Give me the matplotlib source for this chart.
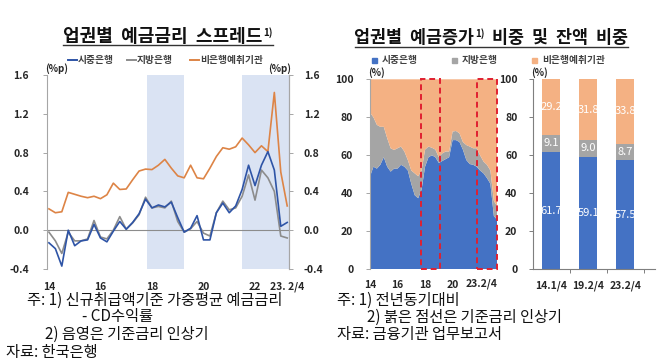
import matplotlib
matplotlib.use("Agg")
import matplotlib.pyplot as plt
from matplotlib.lines import Line2D
from matplotlib.patches import Rectangle
import numpy as np

plt.rcParams['font.family'] = ['Noto Sans CJK KR', 'DejaVu Sans']

# ---------------- data ----------------
# Left: deposit rate spreads (%p), quarterly 2014Q1 - 2023Q2
spread_commercial = [-0.13, -0.19, -0.37, 0.00, -0.16, -0.11, -0.10, 0.06, -0.08, -0.12,
                     -0.01, 0.09, 0.01, 0.08, 0.17, 0.32, 0.23, 0.26, 0.24, 0.29,
                     0.13, -0.02, 0.02, 0.15, -0.10, -0.10, 0.18, 0.28, 0.18, 0.25,
                     0.42, 0.67, 0.46, 0.67, 0.81, 0.62, 0.04, 0.08]
spread_regional = [-0.02, -0.11, -0.24, -0.02, -0.11, -0.11, -0.09, 0.10, -0.07, -0.09,
                   0.00, 0.14, 0.01, 0.075, 0.16, 0.34, 0.23, 0.245, 0.23, 0.30,
                   0.09, -0.02, 0.015, 0.09, -0.03, -0.06, 0.18, 0.30, 0.21, 0.23,
                   0.35, 0.57, 0.31, 0.62, 0.54, 0.40, -0.06, -0.08]
spread_nonbank = [0.22, 0.18, 0.19, 0.39, 0.37, 0.35, 0.335, 0.35, 0.325, 0.365,
                  0.485, 0.42, 0.425, 0.52, 0.61, 0.63, 0.625, 0.67, 0.73, 0.64,
                  0.56, 0.54, 0.67, 0.54, 0.53, 0.64, 0.76, 0.85, 0.835, 0.86,
                  0.95, 0.88, 0.80, 0.87, 0.81, 1.42, 0.60, 0.25]
left_tick_pos = [0, 8, 16, 24, 32, 37]
left_tick_labels = ['14', '16', '18', '20', '22', '23. 2/4']
left_shade = [(15.2, 21.0), (30.0, 37.2)]

# Middle: share of deposit increase (%), quarterly 2014Q1 - 2023Q2
share_commercial = [48.8, 54, 53, 55, 59, 54, 51.4, 53, 53, 55, 54, 52, 45, 39, 37.4, 42,
                    54, 59, 60, 59, 56, 57, 58, 59, 68, 68, 67, 63, 57.5, 55.4, 55, 54,
                    52, 50.5, 48, 45, 28, 26]
share_regional = [33.7, 26, 23, 20, 16, 15, 12.3, 9.8, 10.7, 9.6, 8, 5.5, 7, 11.5, 11.6, 10,
                  9, 5.6, 4, 4, 3, 4, 4, 3, 4.5, 4.8, 4.6, 4, 7.9, 9.2, 8.7, 9.7,
                  8, 6.2, 7, 7, 8, 7]
share_nonbank = [17.5, 20, 24, 25, 25, 31, 36.3, 37.2, 36.3, 35.4, 38, 42.5, 48, 49.5, 51, 48,
                 37, 35.4, 36, 37, 41, 39, 38, 38, 27.5, 27.2, 28.4, 33, 34.6, 35.4, 36.3, 36.3,
                 40, 43.3, 45, 48, 64, 67]
mid_tick_pos = [0, 8, 16, 24]
mid_tick_labels = ['14', '16', '18', '20']
mid_last_label = '23.2/4'
mid_boxes = [(14.8, 20.4), (31.0, 37.0)]

# Right: balance share (%)
bal_periods = ['14.1/4', '19.2/4', '23.2/4']
bal_commercial = [61.7, 59.1, 57.5]
bal_regional = [9.1, 9.0, 8.7]
bal_nonbank = [29.2, 31.8, 33.8]

# ---------------- style ----------------
C_BLUE_LINE = '#2e54a6'
C_GRAY_LINE = '#8c8c8c'
C_ORANGE_LINE = '#dd8446'
C_SHADE = '#dae3f3'
C_BLUE = '#4472c4'
C_GRAY = '#a5a5a5'
C_ORANGE = '#f4b183'
C_RED = '#e02030'
C_TXT = '#262626'
C_AX = '#a6a6a6'

W, H = 658, 361
fig = plt.figure(figsize=(W / 100, H / 100), dpi=100)


def fx(x):
    return x / W


def fy(y):
    return 1 - y / H


def axpos(l, t, r, b):
    return [fx(l), fy(b), (r - l) / W, (b - t) / H]


# ---------------- left chart ----------------
ax1 = fig.add_axes(axpos(47, 75, 288.5, 269))
x1 = np.arange(len(spread_commercial))
for a, b in left_shade:
    ax1.axvspan(a, b, color=C_SHADE, lw=0, zorder=0)
ax1.axhline(0, color='#8c8c8c', lw=0.8, zorder=1)
ax1.plot(x1, spread_nonbank, color=C_ORANGE_LINE, lw=1.2, zorder=3)
ax1.plot(x1, spread_regional, color=C_GRAY_LINE, lw=1.2, zorder=3)
ax1.plot(x1, spread_commercial, color=C_BLUE_LINE, lw=1.2, zorder=4)
ax1.set_xlim(-0.3, 37.2)
ax1.set_ylim(-0.4, 1.6)
yt = [-0.4, 0.0, 0.4, 0.8, 1.2, 1.6]
ax1.set_yticks(yt)
ax1.set_yticklabels([f'{v:.1f}' for v in yt])
ax1.set_xticks(left_tick_pos)
ax1.set_xticklabels(left_tick_labels)
ax1.tick_params(axis='x', length=0, pad=9, labelsize=7.5, colors=C_TXT)
ax1.tick_params(axis='y', length=3, width=0.7, color=C_AX, pad=10, labelsize=7.5, labelcolor=C_TXT)
for lab in ax1.get_xticklabels() + ax1.get_yticklabels():
    lab.set_fontweight('bold')
for s in ['top', 'bottom']:
    ax1.spines[s].set_visible(False)
for s in ['left', 'right']:
    ax1.spines[s].set_color(C_AX)
    ax1.spines[s].set_linewidth(0.8)
ax1r = ax1.twinx()
ax1r.set_ylim(-0.4, 1.6)
ax1r.set_yticks(yt)
ax1r.set_yticklabels([f'{v:.1f}' for v in yt])
ax1r.tick_params(axis='y', length=3, width=0.7, color=C_AX, pad=8, labelsize=7.5, labelcolor=C_TXT)
for lab in ax1r.get_yticklabels():
    lab.set_fontweight('bold')
for s in ['top', 'bottom', 'left']:
    ax1r.spines[s].set_visible(False)
ax1r.spines['right'].set_color(C_AX)
ax1r.spines['right'].set_linewidth(0.8)

fig.text(fx(45), fy(69), '(%p)', fontsize=7, fontweight='bold', color=C_TXT, ha='left', va='center')
fig.text(fx(291), fy(69), '(%p)', fontsize=7, fontweight='bold', color=C_TXT, ha='right', va='center')

# left title
fig.text(fx(262), fy(37), '업권별  예금금리  스프레드', fontsize=13, fontweight='bold',
         color='#111111', ha='right', va='center')
fig.text(fx(263), fy(32.5), '1)', fontsize=7, fontweight='bold', color='#111111', ha='left', va='center')
fig.add_artist(Line2D([fx(63), fx(273)], [fy(44.5), fy(44.5)], color='#333333', lw=1.0))

# left legend
leg_items = [(68, '시중은행', C_BLUE_LINE), (127, '지방은행', C_GRAY_LINE), (190, '비은행예취기관', C_ORANGE_LINE)]
for x0, txt, c in leg_items:
    fig.add_artist(Line2D([fx(x0), fx(x0 + 9)], [fy(60), fy(60)], color=c, lw=1.4))
    fig.text(fx(x0 + 10), fy(60), txt, fontsize=7, fontweight='bold', color='#404040',
             ha='left', va='center')

# ---------------- middle chart ----------------
ax2 = fig.add_axes(axpos(370, 79.3, 497.3, 269.3))
x2 = np.arange(len(share_commercial))
ax2.stackplot(x2, share_commercial, share_regional, share_nonbank,
              colors=[C_BLUE, C_GRAY, C_ORANGE], lw=0)
ax2.set_xlim(0, 37)
ax2.set_ylim(0, 100)
for a, b in mid_boxes:
    ax2.add_patch(Rectangle((a, 0), b - a, 100, fill=False, ls=(0, (3, 2)), ec=C_RED, lw=1.4,
                            clip_on=False, zorder=5))
ax2.set_yticks(range(0, 101, 20))
ax2.set_xticks(mid_tick_pos)
ax2.set_xticklabels(mid_tick_labels)
ax2.tick_params(axis='x', length=0, pad=8, labelsize=7.5, colors=C_TXT)
ax2.tick_params(axis='y', length=3, width=0.7, color=C_AX, pad=9, labelsize=7.5, labelcolor=C_TXT)
ax2.text(37, -0.075, mid_last_label, transform=ax2.get_xaxis_transform(), ha='right', va='center',
         fontsize=7.5, fontweight='bold', color=C_TXT)
for lab in ax2.get_xticklabels() + ax2.get_yticklabels():
    lab.set_fontweight('bold')
for s in ['top', 'bottom', 'right']:
    ax2.spines[s].set_visible(False)
ax2.spines['left'].set_color(C_AX)
ax2.spines['left'].set_linewidth(0.8)
fig.text(fx(368), fy(73), '(%)', fontsize=7, fontweight='bold', color=C_TXT, ha='left', va='center')

# ---------------- right bar chart ----------------
ax3 = fig.add_axes(axpos(532.7, 79.3, 655, 269.3))
xb = np.arange(len(bal_periods))
bw = 0.5
ax3.bar(xb, bal_commercial, bw, color=C_BLUE)
ax3.bar(xb, bal_regional, bw, bottom=bal_commercial, color=C_GRAY)
bot2 = [a + b for a, b in zip(bal_commercial, bal_regional)]
ax3.bar(xb, bal_nonbank, bw, bottom=bot2, color=C_ORANGE)
for i in range(len(bal_periods)):
    ax3.text(xb[i], bal_commercial[i] / 2, f'{bal_commercial[i]:.1f}', ha='center', va='center',
             color='white', fontsize=8)
    ax3.text(xb[i], bal_commercial[i] + bal_regional[i] / 2, f'{bal_regional[i]:.1f}', ha='center',
             va='center', color='white', fontsize=8)
    ax3.text(xb[i], bot2[i] + bal_nonbank[i] / 2, f'{bal_nonbank[i]:.1f}', ha='center', va='center',
             color='white', fontsize=8)
ax3.set_xlim(-0.5, 2.81)
ax3.set_ylim(0, 100)
ax3.set_yticks(range(0, 101, 20))
ax3.set_xticks(xb)
ax3.set_xticklabels(bal_periods)
ax3.set_xticks([0.5, 1.5, 2.5], minor=True)
ax3.tick_params(axis='x', which='major', length=0, pad=8, labelsize=7.5, colors=C_TXT)
ax3.tick_params(axis='x', which='minor', length=3, width=0.7, color='#7f7f7f')
ax3.tick_params(axis='y', length=3, width=0.7, color='#7f7f7f', pad=8, labelsize=7.5, labelcolor=C_TXT)
for lab in ax3.get_xticklabels() + ax3.get_yticklabels():
    lab.set_fontweight('bold')
for s in ['top', 'right']:
    ax3.spines[s].set_visible(False)
for s in ['left', 'bottom']:
    ax3.spines[s].set_color('#7f7f7f')
    ax3.spines[s].set_linewidth(0.8)
fig.text(fx(531), fy(73), '(%)', fontsize=7, fontweight='bold', color=C_TXT, ha='left', va='center')

# right title
fig.text(fx(474), fy(38), '업권별  예금증가', fontsize=12.5, fontweight='bold', color='#111111',
         ha='right', va='center')
fig.text(fx(475), fy(33.5), '1)', fontsize=7, fontweight='bold', color='#111111', ha='left', va='center')
fig.text(fx(492), fy(38), '비중  및  잔액  비중', fontsize=12.5, fontweight='bold', color='#111111',
         ha='left', va='center')
fig.add_artist(Line2D([fx(355), fx(628)], [fy(47), fy(47)], color='#333333', lw=1.0))

# right legend
leg2 = [(372, '시중은행', C_BLUE), (452, '지방은행', C_GRAY), (532, '비은행예취기관', C_ORANGE)]
for x0, txt, c in leg2:
    fig.add_artist(Rectangle((fx(x0), fy(63)), 5 / W, 5 / H, color=c, transform=fig.transFigure))
    fig.text(fx(x0 + 10), fy(60.5), txt, fontsize=7, fontweight='bold', color='#404040',
             ha='left', va='center')

# ---------------- footnotes ----------------
fs = 11
notes = [
    (27, 300, '주: 1) 신규취급액기준 가중평균 예금금리'),
    (82, 317, '- CD수익률'),
    (45, 334, '2) 음영은 기준금리 인상기'),
    (6, 352, '자료: 한국은행'),
    (337, 300, '주: 1) 전년동기대비'),
    (367, 317, '2) 붉은 점선은 기준금리 인상기'),
    (337, 334, '자료: 금융기관 업무보고서'),
]
for x0, y0, t in notes:
    fig.text(fx(x0), fy(y0), t, fontsize=fs, color='#111111', ha='left', va='center')

fig.savefig('out.png', dpi=100, facecolor='white')
